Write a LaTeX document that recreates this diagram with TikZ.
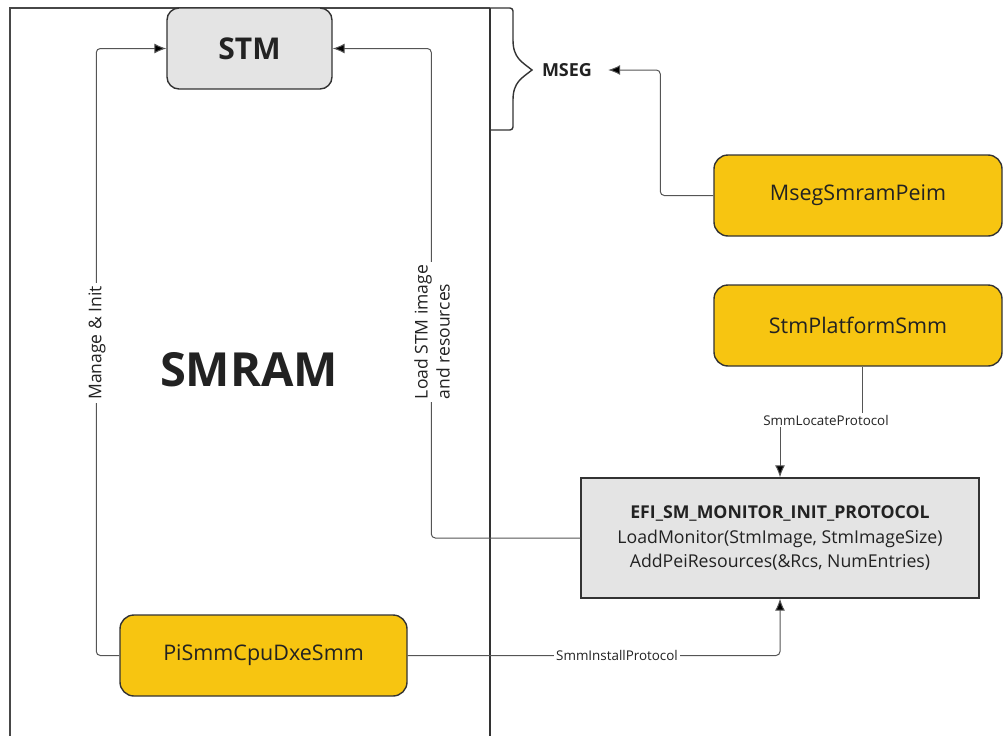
\documentclass[tikz,border=0pt]{standalone}
\usepackage{fontspec}
\setmainfont{Open Sans}
\usetikzlibrary{arrows.meta,calc}
\definecolor{boxyellow}{HTML}{F7C511}
\definecolor{boxgrey}{HTML}{E4E4E4}
\definecolor{edgegrey}{HTML}{333333}
\definecolor{linegrey}{HTML}{555555}
\definecolor{txt}{HTML}{222222}
\tikzset{
  ybox/.style={draw=edgegrey, line width=1.4pt, fill=boxyellow, rounded corners=14pt,
    minimum width=288pt, minimum height=81pt, inner sep=0pt, text=txt,
    font=\fontsize{21.5}{25}\selectfont},
  gbox/.style={draw=edgegrey, line width=1.4pt, fill=boxgrey, inner sep=0pt, text=txt},
  conn/.style={draw=linegrey, line width=1pt, rounded corners=4pt},
  arr/.style={-{Latex[length=12pt,width=10pt,fill=black]}},
  elbl/.style={fill=white, inner sep=2pt, text=txt, font=\fontsize{13.4}{15}\selectfont},
  rlbl/.style={fill=white, inner sep=3pt, text=txt, rotate=90, font=\fontsize{17.5}{22}\selectfont},
}
\begin{document}
\begin{tikzpicture}[x=1pt,y=-1pt]
\useasboundingbox (0,0) rectangle (1004,736);
% SMRAM region
\draw[draw=edgegrey!90, line width=2pt] (10,745) -- (10,8) -- (490,8);
\draw[draw=edgegrey, line width=1.5pt] (490,8) -- (490,745);
% MSEG brace
\draw[draw=edgegrey, line width=1.4pt, rounded corners=3pt]
  (490,8) -- (513,8) -- (513,40);
\draw[draw=edgegrey, line width=1.4pt]
  (513,40) .. controls (513,58) and (522,62) .. (532,70)
  .. controls (522,78) and (513,82) .. (513,100);
\draw[draw=edgegrey, line width=1.4pt, rounded corners=3pt]
  (513,100) -- (513,130) -- (490,130);

% nodes
\node[gbox, rounded corners=12pt, minimum width=165pt, minimum height=81pt,
  font=\bfseries\fontsize{30}{34}\selectfont] (stm) at (249.5,48.5) {STM};
\node[text=txt, font=\bfseries\fontsize{47}{52}\selectfont] (smram) at (249,370) {SMRAM};
\node[text=txt, inner sep=0pt, font=\bfseries\fontsize{18}{20}\selectfont] (mseg) at (567,70) {MSEG};
\node[ybox] (msegpeim) at (858,195.5) {MsegSmramPeim};
\node[ybox] (stmplat) at (858,325.5) {StmPlatformSmm};
\node[ybox, minimum width=287pt] (pismm) at (263.5,655.5) {PiSmmCpuDxeSmm};
\node[gbox, minimum width=398pt, minimum height=120pt, align=center,
  font=\fontsize{17.7}{24.5}\selectfont] (efi) at (780,538)
  {{\bfseries EFI\_SM\_MONITOR\_INIT\_PROTOCOL}\\
   LoadMonitor(StmImage, StmImageSize)\\
   AddPeiResources(\&Rcs, NumEntries)};

% connectors
\draw[conn, arr] (pismm.west) -- ++(-23,0) |- (stm.west);
\node[rlbl] (manage) at (97,343) {Manage \& Init};

\draw[conn, arr] (efi.west) -- ++(-149,0) |- (stm.east);
\node[rlbl, align=left] (loadlbl) at (432,332)
  {Load STM image\\and resources};

\draw[conn, arr, shorten >=16pt] (msegpeim.west) -- ++(-53,0) |- (mseg.east);

\node[elbl, fill=none] (loc) at (826,420) {SmmLocateProtocol};
\draw[conn] ([xshift=4pt]stmplat.south) -- ([xshift=4pt]stmplat.south |- loc.north);
\draw[conn, arr] (loc.south -| efi.north) -- (efi.north);

\draw[conn, arr] (pismm.east) -| (efi.south);
\node[elbl] (inst) at (617,655.5) {SmmInstallProtocol};
\end{tikzpicture}
\end{document}
